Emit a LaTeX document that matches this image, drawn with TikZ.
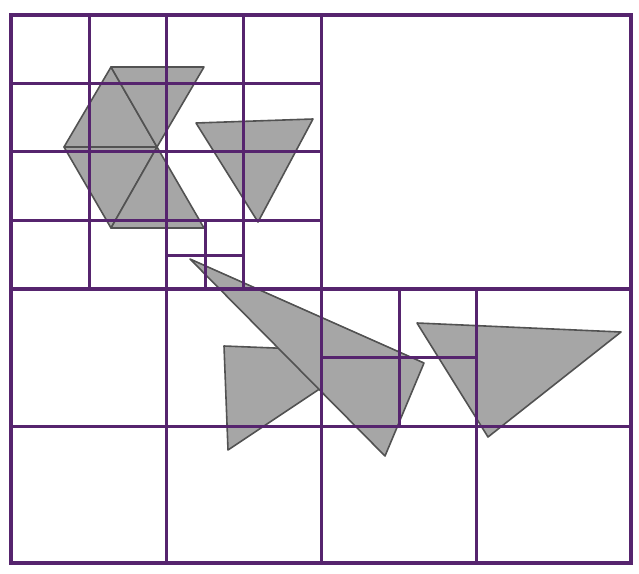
\documentclass[tikz,border=0pt]{standalone}
\definecolor{qpurple}{RGB}{86,36,110}
\definecolor{trifill}{RGB}{166,166,166}
\definecolor{triedge}{RGB}{82,82,82}
\begin{document}
\begin{tikzpicture}[x=1pt,y=-1pt,
        tri/.style={fill=trifill,draw=triedge,line width=1.6pt,line join=round},
        cell/.style={draw=qpurple,line width=3pt}]
    \useasboundingbox (0,0) rectangle (639,573);
    % triangles
    \draw[tri] (111,67) -- (64,147) -- (157,147) -- cycle;
    \draw[tri] (111,67) -- (204,67) -- (157,147) -- cycle;
    \draw[tri] (64,147) -- (157,147) -- (111,228) -- cycle;
    \draw[tri] (157,147) -- (111,228) -- (204,228) -- cycle;
    \draw[tri] (196,123) -- (313,119) -- (258,222) -- cycle;
    \draw[tri] (224,346) -- (375,352) -- (228,450) -- cycle;
    \draw[tri] (190,259) -- (424,363) -- (385,456) -- cycle;
    \draw[tri] (417,323) -- (621,332) -- (488,437) -- cycle;
    % quadtree cells
    \draw[cell,line width=4pt] (11,15) rectangle (631,563);
    \draw[cell,line width=4pt] (11,289) -- (631,289);
    \draw[cell] (321,15) -- (321,563);
    \draw[cell] (166,15) -- (166,563);
    \draw[cell] (11,151) -- (321,151);
    \foreach \x in {89,243} \draw[cell] (\x,15) -- (\x,289);
    \foreach \y in {83,220} \draw[cell] (11,\y) -- (321,\y);
    \draw[cell] (205,220) -- (205,289);
    \draw[cell] (166,255) -- (243,255);
    \draw[cell] (476,289) -- (476,563);
    \draw[cell] (11,426) -- (631,426);
    \draw[cell] (399,289) -- (399,426);
    \draw[cell] (321,357) -- (476,357);
\end{tikzpicture}
\end{document}
